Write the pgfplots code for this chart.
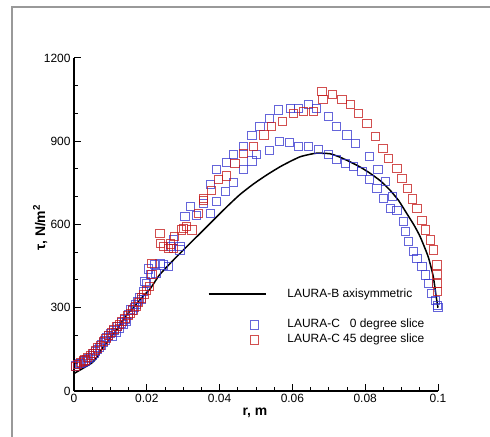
\documentclass[border=0pt]{standalone}
\usepackage{pgfplots}
\pgfplotsset{compat=1.18}
\usepackage{fontspec}
\setmainfont{Liberation Sans}
\definecolor{myblue}{RGB}{50,50,205}
\definecolor{myred}{RGB}{195,20,20}
\newcommand{\lgf}{\fontsize{12}{14}\selectfont}
\begin{document}
\begin{tikzpicture}
\useasboundingbox (0,0) rectangle (490bp,437bp);
\draw[black!40, line width=2bp] (12bp,-10bp) -- (12bp,430bp) -- (500bp,430bp);
\begin{axis}[
  at={(74bp,46bp)}, anchor=south west,
  scale only axis, width=364bp, height=333bp,
  xmin=0, xmax=0.1, ymin=0, ymax=1200,
  axis x line=bottom, axis y line=left,
  axis line style={-, line width=1.2bp},
  clip=false,
  tick align=inside,
  xtick={0,0.02,0.04,0.06,0.08,0.1},
  xticklabels={0,0.02,0.04,0.06,0.08,0.1},
  minor x tick num=3,
  ytick={0,300,600,900,1200},
  yticklabels={0,300,600,900,1200},
  minor y tick num=2,
  major tick length=7bp, minor tick length=4bp,
  every tick/.style={black, line width=1bp},
  ticklabel style={font=\fontsize{12}{14}\selectfont},
  xlabel={\fontsize{14}{16}\selectfont\textbf{r, m}},
  ylabel={\fontsize{14}{16}\selectfont\textbf{τ, N/m\textsuperscript{2}}},
  xlabel style={at={(axis description cs:0.497,-0.066)}, anchor=center},
  ylabel style={at={(axis description cs:-0.093,0.49)}, anchor=center},
  legend cell align=left,
  legend style={at={(0.368,0.309)}, anchor=north west, draw=none, fill=none,
    inner sep=0pt, outer sep=0pt, row sep=3bp, column sep=21bp,
    nodes={inner sep=0pt, text height=9bp, text depth=3bp}},
]
\addplot[black, line width=1.5bp, line join=round, smooth, tension=0.35,
  legend image code/.code={\draw[black, line width=1.5bp] (0bp,0bp) -- (57bp,0bp); \path (0bp,-21bp);}]
  coordinates {
  (0,63) (0.0025,82) (0.005,102) (0.0065,125) (0.008,158) (0.0117,220)
  (0.0145,275) (0.0163,300) (0.0185,335) (0.0209,368) (0.0236,420) (0.0282,484)
  (0.0328,544) (0.0383,616) (0.042,664) (0.0455,707) (0.0493,746) (0.053,779)
  (0.0566,808) (0.0595,828) (0.0621,844) (0.0645,852) (0.0667,857) (0.0703,855)
  (0.073,843) (0.0758,826) (0.0785,808) (0.0813,785) (0.0842,757) (0.0868,724)
  (0.0892,686) (0.0914,640) (0.0934,598) (0.0951,556) (0.0973,484) (0.0987,412)
  (0.0995,340) (0.1,300)};
\addlegendentry{\lgf LAURA-B axisymmetric}
\addplot[only marks, mark=square, mark size=4.1bp, draw=myblue, draw opacity=0.75, line width=0.9bp,
  legend image code/.code={\draw[myblue, draw opacity=0.75, line width=0.9bp] (41.9bp,-4.1bp) rectangle (50.1bp,4.1bp);}]
  coordinates {
  (0.0005,90) (0.001,95) (0.0015,98) (0.002,100) (0.0025,105) (0.003,108) (0.0035,112)
  (0.004,118) (0.0045,122) (0.005,128) (0.0055,135) (0.006,142) (0.0065,150) (0.007,158)
  (0.0075,166) (0.008,175) (0.0085,183) (0.009,192) (0.0095,200) (0.010,208) (0.0105,196)
  (0.011,218) (0.0115,210) (0.012,232) (0.0125,225) (0.013,245) (0.0135,240) (0.014,258)
  (0.0145,250) (0.015,275) (0.0155,295) (0.016,290) (0.0165,300) (0.017,312) (0.0175,322)
  (0.018,335) (0.0185,330) (0.019,360) (0.0195,395) (0.020,388) (0.0205,440) (0.021,420)
  (0.022,455) (0.0225,425) (0.0236,460) (0.0246,454) (0.0259,448) (0.0265,520) (0.0273,544)
  (0.0291,508) (0.0291,520) (0.0305,628) (0.032,664) (0.0337,634) (0.0355,676) (0.0374,640)
  (0.0374,743) (0.0392,682) (0.0392,797) (0.0415,718) (0.0418,823) (0.0438,751) (0.0438,851)
  (0.0466,797) (0.0466,881) (0.0489,829) (0.0489,920) (0.0502,851) (0.0511,953) (0.0537,867)
  (0.0537,983) (0.0565,899) (0.0562,1013) (0.0592,895) (0.0594,1019) (0.0617,881) (0.0617,1019)
  (0.0644,881) (0.0644,1034) (0.0672,869) (0.0667,1019) (0.0699,853) (0.0699,989) (0.0722,833)
  (0.0722,953) (0.0745,821) (0.075,923) (0.0768,809) (0.0773,893) (0.0791,791) (0.0812,845)
  (0.0812,761) (0.0835,797) (0.0832,731) (0.0855,755) (0.0851,694) (0.0869,658) (0.0875,700)
  (0.0887,652) (0.0906,610) (0.091,574) (0.0919,538) (0.0933,502) (0.0942,478) (0.0956,448)
  (0.0965,418) (0.0974,388) (0.0983,351) (0.0993,327) (0.0999,309) (0.1,300)};
\addlegendentry{\lgf LAURA-C\ \ \ 0 degree slice}
\addplot[only marks, mark=square, mark size=4.1bp, draw=myred, draw opacity=0.75, line width=0.9bp,
  legend image code/.code={\draw[myred, draw opacity=0.75, line width=0.9bp] (41.9bp,-4.1bp) rectangle (50.1bp,4.1bp);}]
  coordinates {
  (0.0003,88) (0.001,96) (0.0018,102) (0.0025,108) (0.003,112) (0.0038,120) (0.0045,128)
  (0.005,135) (0.0058,145) (0.0065,155) (0.0072,165) (0.008,178) (0.0088,190) (0.0095,200)
  (0.0102,212) (0.011,222) (0.0118,232) (0.0125,240) (0.0132,250) (0.014,262) (0.0148,272)
  (0.0155,280) (0.0162,292) (0.017,305) (0.0178,320) (0.0185,335) (0.0192,348) (0.02,362)
  (0.0208,378) (0.0214,460) (0.0214,420) (0.0236,568) (0.0238,532) (0.0246,520) (0.0259,514)
  (0.0265,530) (0.0273,514) (0.0277,556) (0.0296,580) (0.03,586) (0.031,592) (0.0324,580)
  (0.0342,640) (0.0355,694) (0.0356,688) (0.0378,724) (0.0397,761) (0.0419,775) (0.0442,821)
  (0.0466,857) (0.0493,881) (0.0522,923) (0.0543,953) (0.0572,971) (0.0603,1001) (0.0631,1007)
  (0.0658,1007) (0.0681,1080) (0.0684,1052) (0.0709,1068) (0.0736,1050) (0.0759,1032)
  (0.0782,1001) (0.0805,965) (0.0828,917) (0.0849,875) (0.0864,839) (0.0887,803) (0.0901,767)
  (0.0917,731) (0.093,692) (0.0942,658) (0.0956,616) (0.0965,580) (0.0979,544) (0.0988,508)
  (0.0997,454) (0.0997,420) (0.0997,388) (0.0999,360)};
\addlegendentry{\lgf LAURA-C 45 degree slice}
\end{axis}
\end{tikzpicture}
\end{document}
